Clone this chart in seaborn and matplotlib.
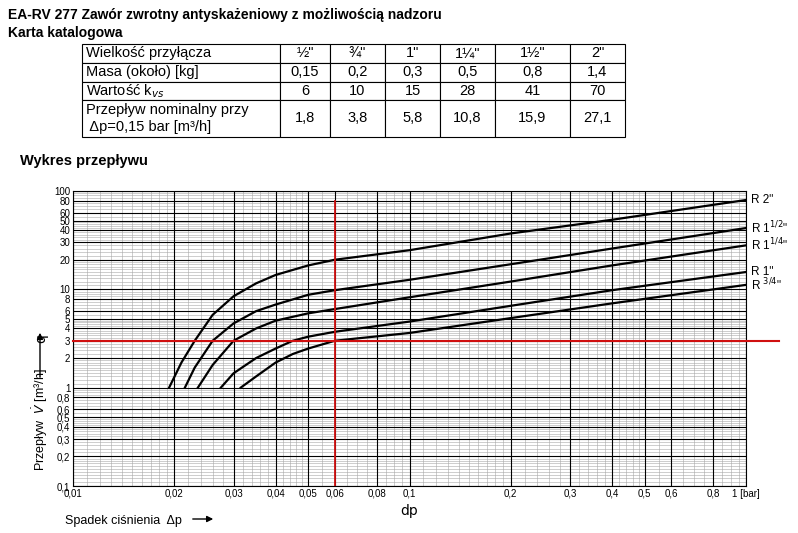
import matplotlib
matplotlib.use("Agg")
import matplotlib.pyplot as plt
import seaborn as sns
import pandas as pd
import numpy as np
from matplotlib.ticker import FixedLocator, NullFormatter

sizes = ['½"', '¾"', '1"', '1¼"', '1½"', '2"']
row_labels = ["Wielkość przyłącza", "Masa (około) [kg]", "Wartość k$_{vs}$",
              "Przepływ nominalny przy\n Δp=0,15 bar [m³/h]"]
masa = ["0,15", "0,2", "0,3", "0,5", "0,8", "1,4"]
kvs = ["6", "10", "15", "28", "41", "70"]
nominal = ["1,8", "3,8", "5,8", "10,8", "15,9", "27,1"]

dp_2 = [0.0193, 0.021, 0.023, 0.026, 0.03, 0.035, 0.04, 0.05, 0.06, 0.1, 0.2, 0.4, 1.0]
q_2 = [1.0, 1.8, 3.0, 5.5, 8.5, 11.5, 14, 17.5, 20, 25, 37, 51, 81]
dp_15 = [0.0215, 0.023, 0.026, 0.03, 0.035, 0.04, 0.05, 0.06, 0.1, 0.2, 0.4, 1.0]
q_15 = [1.0, 1.6, 3.0, 4.5, 6.0, 7.0, 8.8, 9.8, 12.5, 18, 26, 42]
dp_125 = [0.0235, 0.026, 0.03, 0.035, 0.04, 0.05, 0.06, 0.1, 0.2, 0.4, 1.0]
q_125 = [1.0, 1.7, 3.0, 4.0, 4.8, 5.7, 6.3, 8.3, 12, 17.5, 28]
dp_1 = [0.0275, 0.03, 0.035, 0.04, 0.045, 0.05, 0.06, 0.1, 0.2, 0.4, 1.0]
q_1 = [1.0, 1.4, 2.0, 2.5, 3.0, 3.3, 3.7, 4.7, 6.8, 9.8, 15]
dp_34 = [0.0315, 0.035, 0.04, 0.045, 0.05, 0.06, 0.1, 0.2, 0.4, 1.0]
q_34 = [1.0, 1.3, 1.8, 2.2, 2.5, 3.0, 3.6, 5.1, 7.2, 11.1]
curve_labels = ['R 2"', 'R 1$^{1/2}$"', 'R 1$^{1/4}$"', 'R 1"', 'R $^{3/4}$"']

x_ticks = [0.01, 0.02, 0.03, 0.04, 0.05, 0.06, 0.08, 0.1, 0.2, 0.3, 0.4, 0.5, 0.6, 0.8, 1]
y_ticks = [0.1, 0.2, 0.3, 0.4, 0.5, 0.6, 0.8, 1, 2, 3, 4, 5, 6, 8, 10, 20, 30, 40, 50, 60, 80, 100]

def fmt(v):
    return ("%g" % v).replace(".", ",")

fig = plt.figure(figsize=(7.98, 5.33), dpi=100)
fig.patch.set_facecolor("white")
fs = "Liberation Sans"
fig.text(0.01, 0.965, "EA-RV 277 Zawór zwrotny antyskażeniowy z możliwością nadzoru",
         fontsize=10, fontweight="bold", family=fs)
fig.text(0.01, 0.93, "Karta katalogowa", fontsize=10, fontweight="bold", family=fs)
fig.text(0.025, 0.69, "Wykres przepływu", fontsize=10.5, fontweight="bold", family=fs)

# table
tax = fig.add_axes([82/798, 1-137/533, (625-82)/798, (137-44)/533])
tax.axis("off")
cells = [[row_labels[0]] + sizes, [row_labels[1]] + masa,
         [row_labels[2]] + kvs, [row_labels[3]] + nominal]
colw = np.array([198, 50, 55, 55, 55, 75, 55], float)
tb = tax.table(cellText=cells, colWidths=list(colw/colw.sum()), bbox=[0, 0, 1, 1],
               cellLoc="center")
tb.auto_set_font_size(False)
heights = [19, 19, 18, 37]
for (r, c), cell in tb.get_celld().items():
    cell.set_height(heights[r]/93)
    cell.set_linewidth(0.8)
    cell.get_text().set_fontsize(10.5)
    cell.get_text().set_family(fs)
    if c == 0:
        cell.get_text().set_ha("left")
        cell._loc = "left"
        cell.PAD = 0.02

ax = fig.add_axes([73/798, 1-486/533, (746-73)/798, (486-191)/533])
rows = []
for lab, xs, ys in zip(curve_labels, [dp_2, dp_15, dp_125, dp_1, dp_34],
                       [q_2, q_15, q_125, q_1, q_34]):
    for x, y in zip(xs, ys):
        rows.append({"dp": x, "q": y, "size": lab})
df = pd.DataFrame(rows)
ax.set_xscale("log"); ax.set_yscale("log")
ax.set_xlim(0.01, 1); ax.set_ylim(0.1, 100)
mult = list(np.arange(1.1, 2, 0.1)) + list(np.arange(2.2, 5, 0.2)) + list(np.arange(5.5, 10, 0.5))
minor_x = [d*m for d in (0.01, 0.1) for m in mult]
minor_y = [d*m for d in (0.1, 1, 10) for m in mult]
for v in minor_x:
    ax.axvline(v, color="#a8a8a8", lw=0.4, zorder=0)
for v in minor_y:
    ax.axhline(v, color="#a8a8a8", lw=0.4, zorder=0)
for v in x_ticks:
    ax.axvline(v, color="black", lw=0.8, zorder=0)
for v in y_ticks:
    ax.axhline(v, color="black", lw=0.8, zorder=0)
sns.lineplot(data=df, x="dp", y="q", units="size", estimator=None, sort=False,
             color="black", lw=1.6, ax=ax, legend=False)
for lab, xs, ys in zip(curve_labels, [dp_2, dp_15, dp_125, dp_1, dp_34],
                       [q_2, q_15, q_125, q_1, q_34]):
    ax.text(1.008, ys[-1], lab, fontsize=8.5, va="center", family=fs,
            transform=ax.get_yaxis_transform())
ax.plot([0.06, 0.06], [0.1, 80], color="#d01010", lw=1.3, zorder=5)
ax.plot([0.01, 1.25], [3, 3], color="#d01010", lw=1.5, zorder=5, clip_on=False)
ax.xaxis.set_major_locator(FixedLocator(x_ticks))
ax.yaxis.set_major_locator(FixedLocator(y_ticks))
ax.xaxis.set_minor_formatter(NullFormatter()); ax.yaxis.set_minor_formatter(NullFormatter())
ax.tick_params(which="minor", length=0)
ax.tick_params(which="major", length=0, pad=2, labelsize=7)
xl = [fmt(v) for v in x_ticks]; xl[-1] = "1 [bar]"
ax.set_xticklabels(xl, family=fs)
ax.set_yticklabels([fmt(v) for v in y_ticks], family=fs, fontsize=7)
for s in ax.spines.values():
    s.set_linewidth(0.8)
fig.text(65/798, 1-521/533, "Spadek ciśnienia  Δp", fontsize=9, family=fs, va="center")
fig.add_artist(matplotlib.patches.FancyArrowPatch((190/798, 1-519/533), (216/798, 1-519/533),
               transform=fig.transFigure, arrowstyle="-|>", mutation_scale=9, color="black", lw=1))
fig.text(40/798, 1-420/533, r"Przepływ  $\dot{V}$ [m³/h]", fontsize=9, family=fs,
         rotation=90, ha="center", va="center")
fig.add_artist(matplotlib.patches.FancyArrowPatch((40/798, 1-380/533), (40/798, 1-330/533),
               transform=fig.transFigure, arrowstyle="-|>", mutation_scale=9, color="black", lw=1))
fig.savefig("out.png", dpi=100)
